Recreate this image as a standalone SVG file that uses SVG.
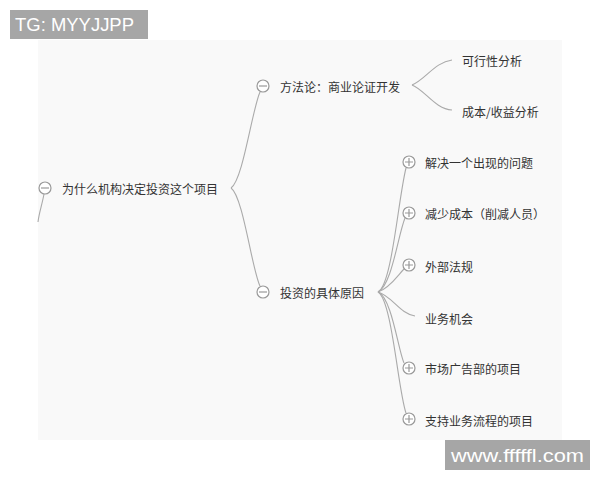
<svg xmlns="http://www.w3.org/2000/svg" width="600" height="480" viewBox="0 0 600 480">
<style>
.t{font-family:"Noto Sans CJK SC","Liberation Sans",sans-serif;font-size:12px;fill:#333;dominant-baseline:central}
.c{fill:#fff;stroke:#999;stroke-width:1.2}
.s{stroke:#999;stroke-width:1.2;fill:none}
.l{fill:none;stroke:#aaa;stroke-width:1.1}
.w{font-family:"Liberation Sans",Arial,sans-serif;font-size:18px;fill:#fff}
</style>
<rect x="0" y="0" width="600" height="480" fill="#fff"/>
<rect x="38" y="40" width="524" height="400" fill="#f9f9f9"/>
<g id="connectors">
<path class="l" d="M44,194 C42,205 39,213 38,222"/>
<path class="l" d="M231,188 C243,180 252,110 260,92"/>
<path class="l" d="M231,188 C243,196 252,270 260,286"/>
<path class="l" d="M412,85 C425,80 435,62 452,60"/>
<path class="l" d="M412,85 C425,90 435,109 452,110"/>
<path class="l" d="M378,292 C392,285 398,200 406,168"/>
<path class="l" d="M378,292 C392,285 398,235 405,218"/>
<path class="l" d="M378,292 C390,288 398,275 404,269"/>
<path class="l" d="M378,292 C392,296 400,314 415,316"/>
<path class="l" d="M378,292 C392,298 398,350 404,363"/>
<path class="l" d="M378,292 C392,300 398,390 406,413"/>
</g>
<g id="root">
<circle class="c" cx="45" cy="188" r="6"/><line class="s" x1="41" y1="188" x2="49" y2="188"/>
<text class="t" x="62" y="188">为什么机构决定投资这个项目</text>
</g>
<g id="b1">
<circle class="c" cx="263" cy="86" r="6"/><line class="s" x1="259" y1="86" x2="267" y2="86"/>
<text class="t" x="280" y="86">方法论：商业论证开发</text>
</g>
<g id="b1c1"><text class="t" x="462" y="60">可行性分析</text></g>
<g id="b1c2"><text class="t" x="462" y="111">成本/收益分析</text></g>
<g id="b2">
<circle class="c" cx="263" cy="292" r="6"/><line class="s" x1="259" y1="292" x2="267" y2="292"/>
<text class="t" x="280" y="292">投资的具体原因</text>
</g>
<g id="b2c1">
<circle class="c" cx="409" cy="162" r="6"/><path class="s" d="M405,162H413M409,158V166"/>
<text class="t" x="425" y="162">解决一个出现的问题</text>
</g>
<g id="b2c2">
<circle class="c" cx="409" cy="213" r="6"/><path class="s" d="M405,213H413M409,209V217"/>
<text class="t" x="425" y="213">减少成本（削减人员）</text>
</g>
<g id="b2c3">
<circle class="c" cx="409" cy="265" r="6"/><path class="s" d="M405,265H413M409,261V269"/>
<text class="t" x="425" y="266">外部法规</text>
</g>
<g id="b2c4"><text class="t" x="425" y="318">业务机会</text></g>
<g id="b2c5">
<circle class="c" cx="409" cy="368" r="6"/><path class="s" d="M405,368H413M409,364V372"/>
<text class="t" x="425" y="368">市场广告部的项目</text>
</g>
<g id="b2c6">
<circle class="c" cx="409" cy="419" r="6"/><path class="s" d="M405,419H413M409,415V423"/>
<text class="t" x="425" y="420">支持业务流程的项目</text>
</g>
<g id="wm1"><rect x="10" y="10" width="138" height="29" fill="#a6a6a6"/><text class="w" x="15" y="31" textLength="119" lengthAdjust="spacingAndGlyphs">TG: MYYJJPP</text></g>
<g id="wm2"><rect x="445" y="440" width="145" height="30" fill="#a6a6a6"/><text class="w" x="451" y="462" textLength="133" lengthAdjust="spacingAndGlyphs">www.fffffl.com</text></g>
</svg>
